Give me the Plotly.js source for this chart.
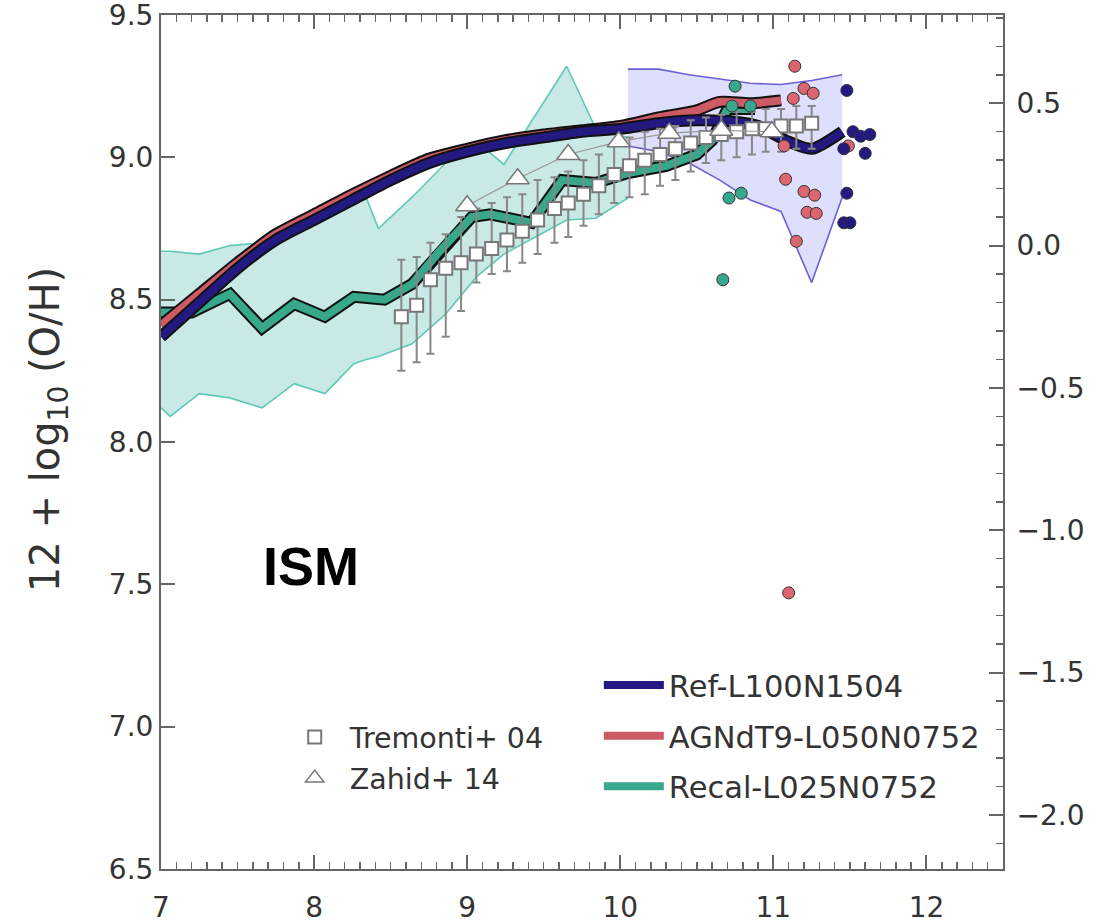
<!DOCTYPE html>
<html>
<head>
<meta charset="utf-8">
<script src="https://cdn.plot.ly/plotly-3.0.1.min.js"></script>
<style>html,body{margin:0;padding:0;background:#fff;}</style>
</head>
<body>
<div id="chart" style="width:1101px;height:924px;"></div>
<script>
// ---------------- data ----------------
const solarOH = 8.69;

const refX = [7.0,7.25,7.5,7.75,8.0,8.25,8.5,8.75,9.0,9.25,9.5,9.75,10.0,10.25,10.5,10.75,10.9,11.1,11.25,11.45];
const refY = [8.37,8.49,8.61,8.71,8.78,8.85,8.92,8.98,9.02,9.05,9.07,9.09,9.10,9.12,9.13,9.125,9.11,9.055,9.03,9.09];

const agnX = [7.0,7.25,7.5,7.75,8.0,8.25,8.5,8.75,9.0,9.25,9.5,9.75,10.0,10.25,10.5,10.65,10.85,11.05];
const agnY = [8.41,8.52,8.63,8.73,8.80,8.87,8.935,8.995,9.03,9.06,9.08,9.095,9.11,9.14,9.165,9.195,9.19,9.20];

const recalX = [7.0,7.2,7.45,7.66,7.87,8.07,8.26,8.46,8.64,8.82,9.03,9.15,9.42,9.62,9.84,10.05,10.3,10.5,10.6,10.7,10.88];
const recalY = [8.455,8.455,8.52,8.40,8.485,8.44,8.51,8.50,8.555,8.67,8.79,8.80,8.77,8.92,8.91,8.945,8.97,9.01,9.06,9.17,9.17];

const recalBandX  = [7.0,7.06,7.25,7.45,7.66,7.87,8.07,8.26,8.34,8.42,8.64,8.86,9.06,9.24,9.65,9.84,10.05];
const recalBandHi = [8.67,8.67,8.66,8.69,8.70,8.75,8.80,8.85,8.86,8.75,8.86,8.98,9.056,8.975,9.32,9.10,9.07];
const recalBandLo = [8.12,8.09,8.17,8.155,8.12,8.205,8.17,8.275,8.29,8.30,8.345,8.45,8.58,8.66,8.78,8.786,8.857];

const refBandX  = [10.05,10.25,10.45,10.65,10.85,11.05,11.25,11.45];
const refBandHi = [9.31,9.31,9.29,9.275,9.26,9.256,9.27,9.29];
const refBandLo = [9.04,9.02,8.98,8.92,8.85,8.81,8.56,8.86];

const tremX  = [8.57,8.67,8.76,8.86,8.96,9.06,9.16,9.26,9.36,9.46,9.57,9.66,9.76,9.86,9.96,10.06,10.16,10.26,10.36,10.46,10.56,10.66,10.76,10.86,10.95,11.05,11.15,11.25];
const tremY  = [8.44,8.48,8.57,8.61,8.63,8.66,8.68,8.71,8.74,8.78,8.82,8.84,8.87,8.90,8.94,8.97,8.99,9.01,9.03,9.05,9.07,9.08,9.09,9.10,9.10,9.11,9.11,9.12];
const tremLo = [8.25,8.28,8.31,8.37,8.46,8.56,8.59,8.60,8.63,8.66,8.70,8.72,8.76,8.80,8.84,8.86,8.87,8.90,8.92,8.95,8.98,8.99,9.00,9.01,9.02,9.02,9.03,9.03];
const tremHi = [8.64,8.65,8.70,8.73,8.79,8.82,8.84,8.86,8.87,8.92,8.93,8.95,8.99,9.01,9.05,9.07,9.09,9.10,9.11,9.13,9.14,9.15,9.16,9.16,9.17,9.17,9.18,9.18];

const zahidX = [9.0,9.33,9.66,9.99,10.32,10.66,10.99];
const zahidY = [8.83,8.925,9.01,9.055,9.085,9.095,9.09];

const recalDotX = [10.75,10.73,10.85,10.71,10.79,10.67];
const recalDotY = [9.25,9.18,9.18,8.857,8.874,8.57];
const agnDotX = [11.49,11.07,11.14,11.20,11.26,11.13,11.08,11.20,11.27,11.22,11.28,11.15,11.10];
const agnDotY = [9.04,9.04,9.32,9.242,9.225,9.207,8.923,8.88,8.867,8.807,8.803,8.705,7.47];
const refDotX = [11.48,11.52,11.57,11.63,11.46,11.60,11.48,11.46,11.50];
const refDotY = [9.235,9.09,9.074,9.08,9.03,9.014,8.874,8.77,8.77];

const xTicks = [7,8,9,10,11,12];
const leftTicks = [6.5,7.0,7.5,8.0,8.5,9.0,9.5];
const rightTicks = [-2.0,-1.5,-1.0,-0.5,0.0,0.5];
const leftRange = [6.5,9.5];

// ---------------- styles ----------------
const NAVY = '#221a80', RED = '#cd5b66', TEAL = '#38a88c';
const AX = '#666', TXT = '#333';
const tickFont = {family:'DejaVu Sans, sans-serif', size:28, color:TXT};

function band(x, lo, hi, fill) {
  return {x: x.concat(x.slice().reverse()), y: lo.concat(hi.slice().reverse()),
    fill:'toself', fillcolor:fill, mode:'lines', line:{width:0}, showlegend:false, hoverinfo:'skip'};
}
function edge(x, y, color) {
  return {x:x, y:y, mode:'lines', line:{color:color, width:1.6}, showlegend:false, hoverinfo:'skip'};
}
function thick(x, y, color, name, rank, shape) {
  return [
    {x:x, y:y, mode:'lines', line:{color:'#111', width:12, shape:shape, smoothing:0.7}, showlegend:false, hoverinfo:'skip'},
    {x:x, y:y, mode:'lines', line:{color:color, width:8, shape:shape, smoothing:0.7}, name:name, legend:'legend2', legendgroup:name, legendrank:rank}
  ];
}
function dots(x, y, color) {
  return {x:x, y:y, mode:'markers', marker:{symbol:'circle', size:12, color:color, line:{color:'#333', width:1}}, showlegend:false};
}

const traces = [
  band(recalBandX, recalBandLo, recalBandHi, 'rgb(200,233,230)'),
  edge(recalBandX, recalBandHi, 'rgb(95,200,182)'),
  edge(recalBandX, recalBandLo, 'rgb(95,200,182)'),
  band(refBandX, refBandLo, refBandHi, 'rgb(222,222,253)'),
  edge(refBandX, refBandHi, 'rgb(110,95,215)'),
  edge(refBandX, refBandLo, 'rgb(110,95,215)'),
  ...thick(recalX, recalY, TEAL, 'Recal-L025N0752', 3, 'linear'),
  ...thick(agnX, agnY, RED, 'AGNdT9-L050N0752', 2, 'spline'),
  ...thick(refX, refY, NAVY, 'Ref-L100N1504', 1, 'spline'),
  {x:tremX, y:tremY, mode:'markers', name:'Tremonti+ 04', legend:'legend', legendgroup:'t', legendrank:1,
   marker:{symbol:'square', size:13, color:'#fff', line:{color:'#777', width:2}},
   error_y:{type:'data', symmetric:false,
     array: tremHi.map((h,i)=>h-tremY[i]), arrayminus: tremY.map((v,i)=>v-tremLo[i]),
     color:'#888', thickness:2, width:4}},
  {x:zahidX, y:zahidY, mode:'lines', line:{color:'#999', width:1.2}, showlegend:false, hoverinfo:'skip'},
  {x:zahidX, y:zahidY, mode:'markers', name:'Zahid+ 14', legend:'legend', legendgroup:'z', legendrank:2,
   marker:{symbol:'triangle-up', size:20, color:'#fff', line:{color:'#777', width:1.5}}},
  dots(recalDotX, recalDotY, TEAL),
  dots(agnDotX, agnDotY, '#dc6670'),
  dots(refDotX, refDotY, NAVY),
  // the Ref curve expressed relative to solar, carried (invisibly) on the right-hand axis so that axis is built
  {x:refX, y:refY.map(v => v - solarOH), yaxis:'y2', mode:'lines', line:{width:0, color:'rgba(0,0,0,0)'},
   showlegend:false, hoverinfo:'skip'}
];

const layout = {
  width:1101, height:924,
  margin:{l:161, r:98, t:15, b:55},
  paper_bgcolor:'#fff', plot_bgcolor:'#fff',
  showlegend:true,
  xaxis:{range:[7,12.5], tickvals:xTicks, ticks:'inside', ticklen:14, tickwidth:2, tickcolor:AX,
    showline:true, linecolor:AX, linewidth:2, mirror:'ticks', showgrid:false, zeroline:false,
    minor:{dtick:0.1, tick0:7, ticks:'inside', ticklen:7, tickwidth:1.5, tickcolor:AX, showgrid:false},
    tickfont:tickFont, ticklabelstandoff:12},
  yaxis:{range:leftRange, tickvals:leftTicks, tickformat:'.1f', ticks:'inside', ticklen:14, tickwidth:2, tickcolor:AX,
    showline:true, linecolor:AX, linewidth:2, mirror:false, showgrid:false, zeroline:false, tickfont:tickFont,
    ticklabeloverflow:'allow'},
  yaxis2:{overlaying:'y', side:'right', anchor:'x', range:[leftRange[0]-solarOH, leftRange[1]-solarOH],
    tickvals:rightTicks, tickformat:'.1f', ticks:'inside', ticklen:14, tickwidth:2, tickcolor:AX,
    showline:true, linecolor:AX, linewidth:2, showgrid:false, zeroline:false,
    minor:{dtick:0.1, tick0:0, ticks:'inside', ticklen:7, tickwidth:1.5, tickcolor:AX, showgrid:false},
    tickfont:tickFont, ticklabelstandoff:6},
  legend:{x:0.141, xanchor:'left', y:0.1838, yanchor:'top', bgcolor:'rgba(0,0,0,0)', borderwidth:0,
    font:{family:'DejaVu Sans, sans-serif', size:28.5, color:TXT}, tracegroupgap:1, itemwidth:60},
  legend2:{x:0.52, xanchor:'left', y:0.2463, yanchor:'top', bgcolor:'rgba(0,0,0,0)', borderwidth:0,
    font:{family:'DejaVu Sans, sans-serif', size:30.5, color:TXT}, tracegroupgap:8, itemwidth:60},
  annotations:[
    {xref:'paper', yref:'paper', x:-0.134, y:0.514, text:'12 + log<sub>10</sub> (O/H)', textangle:-90,
     showarrow:false, xanchor:'center', yanchor:'middle', font:{family:'DejaVu Sans, sans-serif', size:40, color:TXT}},
    {xref:'x', yref:'y', x:7.65, y:7.566, text:'<b>ISM</b>', showarrow:false, xanchor:'left', yanchor:'middle',
     font:{family:'Liberation Sans, Arial, sans-serif', size:54, color:'#000'}}
  ]
};

Plotly.newPlot('chart', traces, layout, {displayModeBar:false, staticPlot:true});
</script>
</body>
</html>
